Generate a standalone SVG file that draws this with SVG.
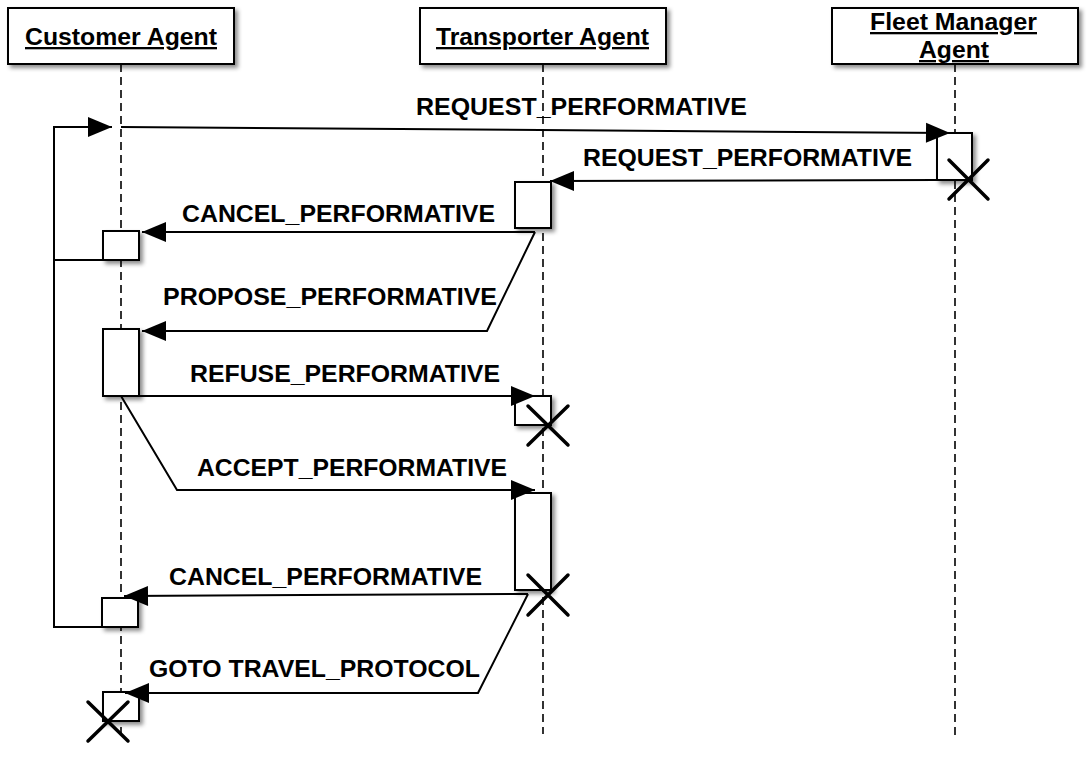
<svg xmlns="http://www.w3.org/2000/svg" width="1087" height="762" viewBox="0 0 1087 762">
<style>
.box{fill:#fff;stroke:#000;stroke-width:2;filter:url(#sh)}
.act{fill:#fff;stroke:#000;stroke-width:2;filter:url(#sh)}
.life{stroke:#000;stroke-width:1.6;stroke-dasharray:8 5;fill:none}
.msg{stroke:#000;stroke-width:2;fill:none}
.arr{marker-end:url(#ah)}
.x{stroke:#000;stroke-width:3.5;stroke-linecap:round;fill:none}
.hd{font-family:"Liberation Sans",Arial,sans-serif;font-weight:bold;font-size:23px;text-decoration:underline;fill:#000}
.lb{font-family:"Liberation Sans",Arial,sans-serif;font-weight:bold;font-size:23px;fill:#000}
</style>
<defs>
<filter id="sh" x="-30%" y="-30%" width="160%" height="160%">
<feDropShadow dx="3" dy="3" stdDeviation="2" flood-color="#000" flood-opacity="0.45"/>
</filter>
<marker id="ah" markerUnits="userSpaceOnUse" markerWidth="26" markerHeight="22" refX="25" refY="11" orient="auto">
<path d="M1,1 L25,11 L1,21 Z" fill="#000"/>
</marker>
</defs>
<rect width="1087" height="762" fill="#fff"/>
<g id="lifelines">
<line class="life" x1="121" y1="64" x2="121" y2="736"/>
<line class="life" x1="543" y1="64" x2="543" y2="734"/>
<line class="life" x1="955" y1="64" x2="955" y2="736"/>
</g>
<g id="customer-agent">
<rect class="box" x="8" y="8" width="226" height="56"/>
<text class="hd" x="25" y="45" textLength="192" lengthAdjust="spacingAndGlyphs">Customer Agent</text>
</g>
<g id="transporter-agent">
<rect class="box" x="420" y="8" width="246" height="56"/>
<text class="hd" x="436" y="45" textLength="213" lengthAdjust="spacingAndGlyphs">Transporter Agent</text>
</g>
<g id="fleet-manager-agent">
<rect class="box" x="832" y="8" width="246" height="56"/>
<text class="hd" x="870" y="30" textLength="167" lengthAdjust="spacingAndGlyphs">Fleet Manager</text>
<text class="hd" x="919" y="58" textLength="70" lengthAdjust="spacingAndGlyphs">Agent</text>
</g>
<g id="activations">
<rect id="fleet-act" class="act" x="937" y="133" width="35" height="47"/>
<rect id="trans-act1" class="act" x="515" y="182" width="36" height="46"/>
<rect id="cust-act1" class="act" x="103" y="231" width="36" height="29"/>
<rect id="cust-act2" class="act" x="103" y="329" width="36" height="67"/>
<rect id="trans-act2" class="act" x="515" y="396" width="36" height="29"/>
<rect id="trans-act3" class="act" x="515" y="493" width="36" height="97"/>
<rect id="cust-act3" class="act" x="102" y="598" width="36" height="29"/>
<rect id="cust-act4" class="act" x="103" y="692" width="36" height="29"/>
</g>
<g id="connectors">
<line class="msg arr" x1="121" y1="127" x2="950" y2="133"/>
<polyline class="msg arr" points="103,260 54,260 54,127 112,127"/>
<line class="msg arr" x1="937" y1="180" x2="550" y2="181"/>
<line class="msg arr" x1="535" y1="232" x2="142" y2="232"/>
<polyline class="msg arr" points="535,232 487,331 142,331"/>
<line class="msg arr" x1="139" y1="396" x2="535" y2="396"/>
<polyline class="msg arr" points="121,396 177,490 535,490"/>
<line class="msg arr" x1="528" y1="594" x2="124" y2="596"/>
<polyline class="msg" points="102,627 54,627 54,260"/>
<polyline class="msg arr" points="528,594 478,693 125,693"/>
</g>
<g id="labels">
<text class="lb" x="416" y="115" textLength="331" lengthAdjust="spacingAndGlyphs">REQUEST_PERFORMATIVE</text>
<text class="lb" x="583" y="166" textLength="329" lengthAdjust="spacingAndGlyphs">REQUEST_PERFORMATIVE</text>
<text class="lb" x="182" y="222" textLength="313" lengthAdjust="spacingAndGlyphs">CANCEL_PERFORMATIVE</text>
<text class="lb" x="163" y="305" textLength="334" lengthAdjust="spacingAndGlyphs">PROPOSE_PERFORMATIVE</text>
<text class="lb" x="190" y="382" textLength="310" lengthAdjust="spacingAndGlyphs">REFUSE_PERFORMATIVE</text>
<text class="lb" x="197" y="476" textLength="310" lengthAdjust="spacingAndGlyphs">ACCEPT_PERFORMATIVE</text>
<text class="lb" x="169" y="585" textLength="313" lengthAdjust="spacingAndGlyphs">CANCEL_PERFORMATIVE</text>
<text class="lb" x="149" y="677" textLength="331" lengthAdjust="spacingAndGlyphs">GOTO TRAVEL_PROTOCOL</text>
</g>
<g id="destructions">
<path class="x" d="M949,160 L988,199 M988,160 L949,199"/>
<path class="x" d="M528,406 L568,445 M568,406 L528,445"/>
<path class="x" d="M528,575 L568,615 M568,575 L528,615"/>
<path class="x" d="M88,702 L128,741 M128,702 L88,741"/>
</g>
</svg>
